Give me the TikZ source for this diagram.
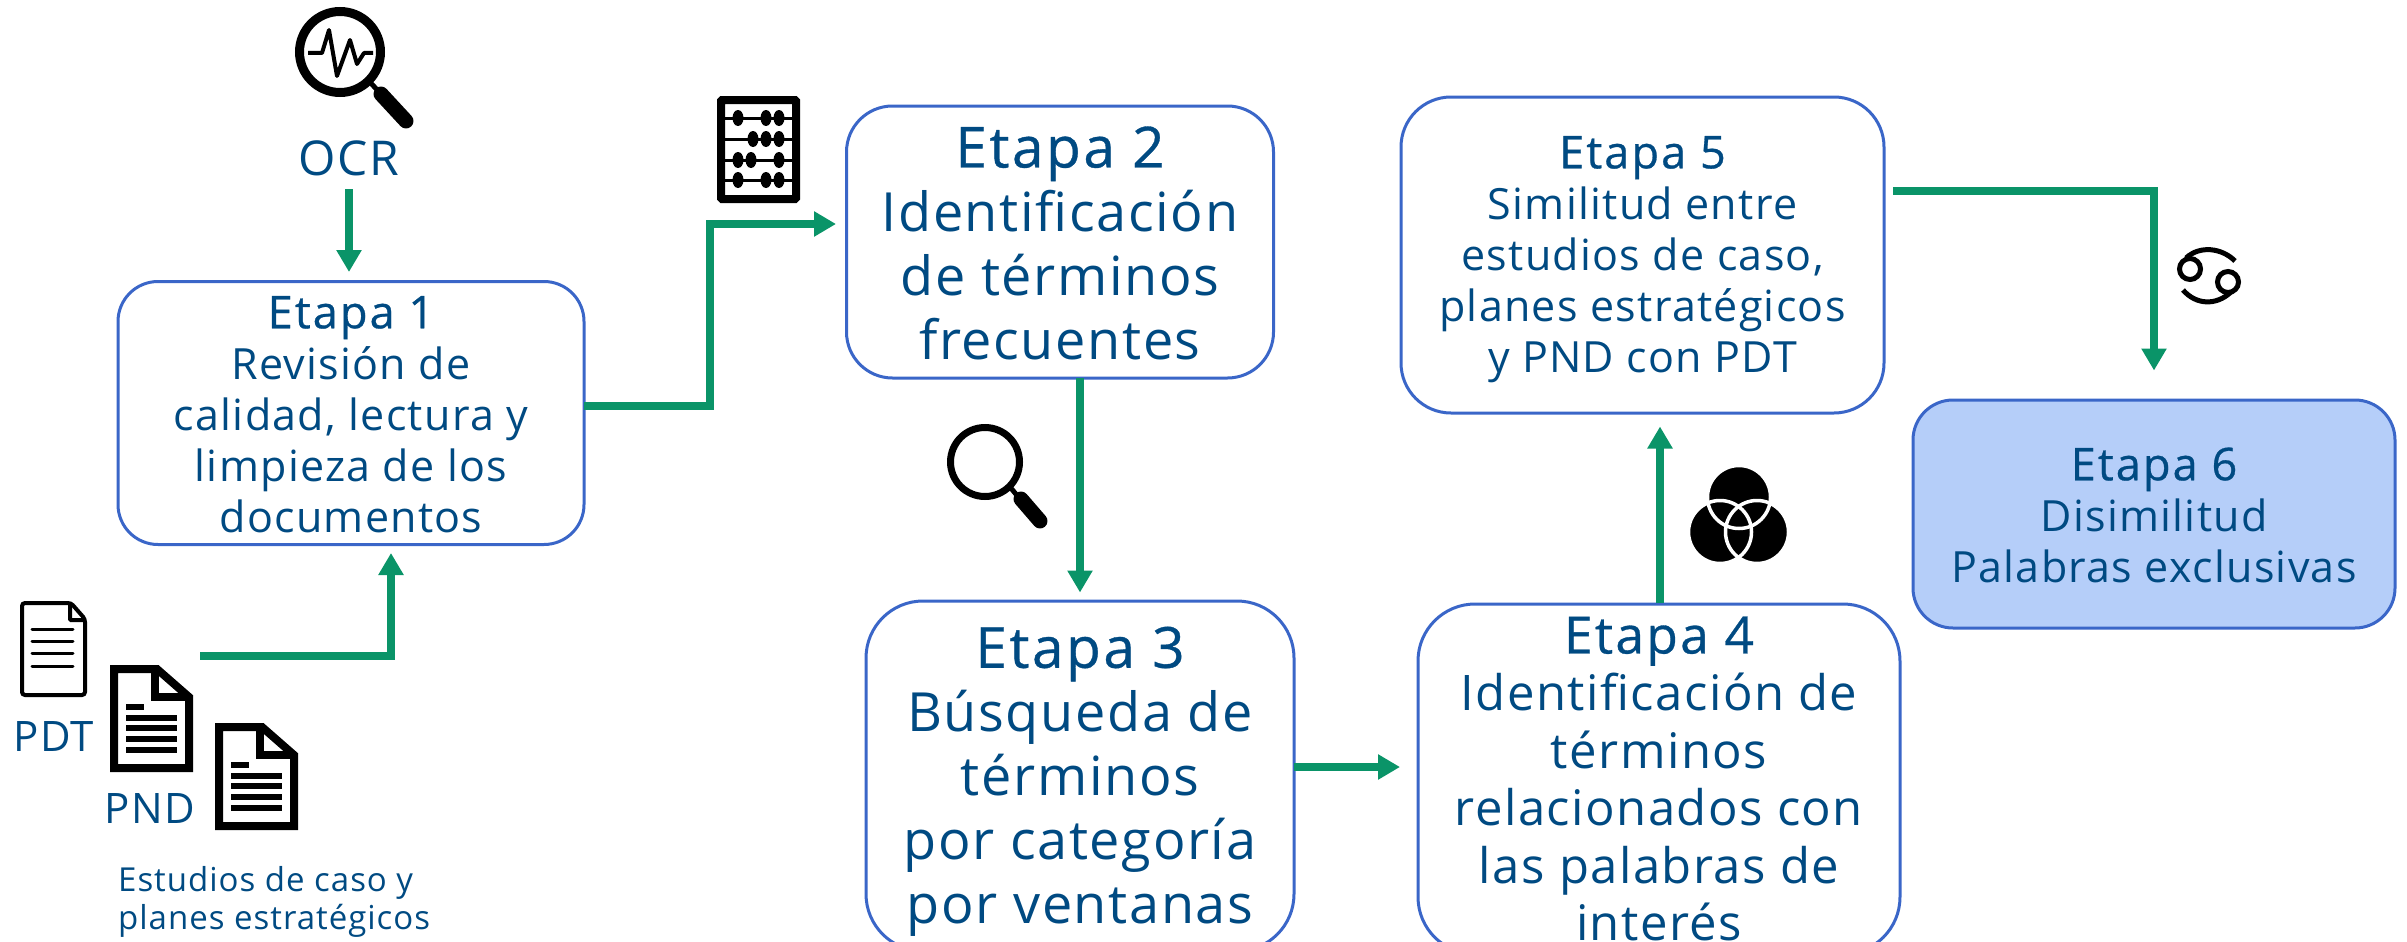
\documentclass[tikz,border=0pt]{standalone}
\usepackage{fontspec}
\setmainfont{Open Sans}[LetterSpace=3]
\newfontfamily\medf{Open Sans}[LetterSpace=4.5,Scale=1.05,FakeBold=0.6]
\usetikzlibrary{arrows.meta}
\definecolor{txtblue}{HTML}{004A82}
\definecolor{edgeblue}{HTML}{3A66C8}
\definecolor{flowgreen}{HTML}{0A9468}
\definecolor{softblue}{HTML}{B5CEF9}
\tikzset{
  stagebox/.style={draw=edgeblue,line width=3pt,fill=white,align=center,inner sep=0pt,text=txtblue},
  flow/.style={draw=flowgreen,line width=8pt,line join=miter,-{Triangle[length=22pt,width=24pt]}},
  plain label/.style={text=txtblue,inner sep=0pt},
  pics/fatdoc/.style={code={
    \draw[black,line width=8pt,line join=miter,fill=white] (4,4)--(47,4)--(79,32)--(79,103)--(4,103)--cycle;
    \draw[black,line width=8pt,line join=miter] (45,4)--(45,32)--(79,32);
    \fill[black] (16,39) rectangle (34,45);
    \foreach \yy in {53,63,74,85}{\fill[black] (16,\yy-3) rectangle (67,\yy+3);}
  }}
}
\newcommand{\szA}{\fontsize{43}{51}\selectfont}
\newcommand{\szB}{\fontsize{54}{64}\selectfont}
\newcommand{\szC}{\fontsize{49}{57.5}\selectfont}
\newcommand{\lift}[1]{\rule{0pt}{#1pt}}
\begin{document}
\begin{tikzpicture}[x=1pt,y=-1pt]
\useasboundingbox (0,0) rectangle (2407,942);
\clip (0,0) rectangle (2407,942);
% stage boxes
\node[stagebox,rounded corners=40pt,minimum width=466pt,minimum height=263pt,font=\szA] (b1) at (351,413)
  {\lift{35}{\medf Etapa 1}\\Revisión de\\calidad, lectura y\\limpieza de los\\documentos};
\node[stagebox,rounded corners=46pt,minimum width=427pt,minimum height=272pt,font=\szB] (b2) at (1060,242)
  {\lift{43.5}{\medf Etapa 2}\\Identificación\\de términos\\frecuentes};
\node[stagebox,rounded corners=57pt,minimum width=428pt,minimum height=350pt,font=\szB] (b3) at (1080,776)
  {\lift{52.5}{\medf Etapa 3}\\Búsqueda de\\términos\\por categoría\\por ventanas};
\node[stagebox,rounded corners=57pt,minimum width=482pt,minimum height=350pt,font=\szC] (b4) at (1659,779)
  {{\medf Etapa 4}\\Identificación de\\términos\\relacionados con\\las palabras de\\interés};
\node[stagebox,rounded corners=50pt,minimum width=483pt,minimum height=316pt,font=\szA] (b5) at (1642.5,255)
  {\lift{41}{\medf Etapa 5}\\Similitud entre\\estudios de caso,\\planes estratégicos\\y PND con PDT};
\node[stagebox,fill=softblue,rounded corners=40pt,minimum width=482pt,minimum height=228pt,font=\szA] (b6) at (2154,514)
  {\lift{35}{\medf Etapa 6}\\Disimilitud\\Palabras exclusivas};
% labels
\node[plain label,font=\fontsize{48}{56}\selectfont] (ocr) at (349,158) {OCR};
\node[plain label,font=\fontsize{42}{50}\selectfont,anchor=base] (pdt) at (54,751) {PDT};
\node[plain label,font=\fontsize{42}{50}\selectfont,anchor=base] (pnd) at (150,823) {PND};
\node[plain label,font=\fontsize{33}{38}\selectfont,align=left,anchor=west] (est) at (118,902) {Estudios de caso y\\planes estratégicos};
% connector ends
\coordinate (ocrout) at (349,189);
\coordinate (docout) at (200,656);
\coordinate (b1in) at (391,544);
\coordinate (b1out) at (584,406);
\coordinate (c12a) at (710,406);
\coordinate (c12b) at (710,224);
\coordinate (b2in) at (836,224);
\coordinate (c56a) at (1893,191);
\coordinate (c56b) at (2154,191);
\coordinate (b3out) at (1294,767);
\coordinate (b4in) at (1400,767);
\coordinate (b2out) at (1080,378);
\coordinate (b4out) at (1660,603);
% connectors
\draw[flow,shorten >=8pt] (ocrout) -- (ocrout |- b1.north);
\draw[flow,shorten >=9pt] (docout) -| (b1in);
\draw[flow] (b1out) -- (c12a) -- (c12b) -- (b2in);
\draw[flow,shorten >=7pt] (b2out) -- (b2out |- b3.north);
\draw[flow] (b3out) -- (b4in);
\draw[flow,shorten >=12pt] (b4out) -- (b4out |- b5.south);
\draw[flow,shorten >=28pt] (c56a) -- (c56b) -- (c56b |- b6.north);
% OCR magnifier
\draw[black,line width=9pt] (340,52) circle (40.5);
\draw[black,line width=4pt,line join=round] (308,53)--(322,53)--(329,30)--(337,76)--(350,40)--(357,64)--(364,53)--(373,53);
\draw[black,line width=5pt] (368,80)--(380,93);
\draw[black,line width=15pt,line cap=round] (381,94)--(406,121);
% abacus
\draw[black,line width=8pt,rounded corners=1pt] (721,100) rectangle (796,199);
\foreach \yy/\aa/\bb/\cc in {118/738/766/779,139/753/766/779,160/738/751/779,180/738/766/779}{
  \draw[black,line width=3pt] (721,\yy)--(796,\yy);
  \foreach \xx in {\aa,\bb,\cc}{\fill[black] (\xx,\yy) ellipse (5.5 and 8);}
}
% search magnifier
\draw[black,line width=7pt] (985,462) circle (34.5);
\draw[black,line width=5pt] (1010,487)--(1020,499);
\draw[black,line width=15pt,line cap=round] (1021,499)--(1040,521);
% venn
\foreach \cx/\cy in {1739/497,1720/532,1757/532}{\fill[black] (\cx,\cy) circle (31.5);}
\foreach \cx/\cy in {1739/497,1720/532,1757/532}{\draw[white,line width=3.5pt] (\cx,\cy) circle (31.5);}
% cancer sign
\draw[black,line width=5pt] (2190,269) circle (10.5);
\draw[black,line width=5pt] (2228,282) circle (10.5);
\draw[black,line width=5pt] (2235,261) .. controls (2222,248) and (2200,245) .. (2186,258);
\draw[black,line width=5pt] (2183,290) .. controls (2196,305) and (2216,306) .. (2231,292);
% documents
\draw[black,line width=4pt,rounded corners=3pt,fill=white] (22,603)--(71,603)--(85,619)--(85,695)--(22,695)--cycle;
\draw[black,line width=4pt,rounded corners=1pt] (70,603)--(70,620)--(85,620);
\foreach \yy in {629,641,653,666}{\draw[black,line width=3pt,line cap=round] (32,\yy)--(73,\yy);}
\pic at (110,665) {fatdoc};
\pic at (215,723) {fatdoc};
\end{tikzpicture}
\end{document}
